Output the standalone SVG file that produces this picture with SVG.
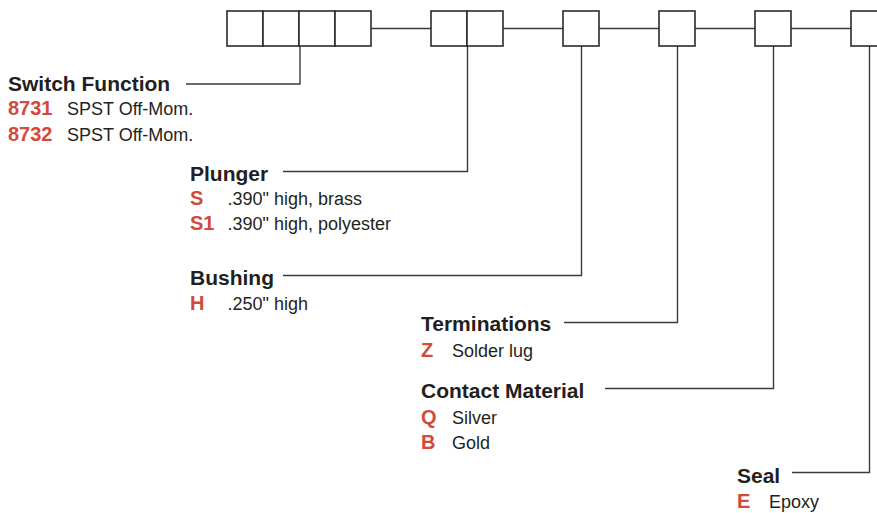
<svg xmlns="http://www.w3.org/2000/svg" width="877" height="513" viewBox="0 0 877 513">
<style>
.box{fill:#fff;stroke:#2b2b2b;stroke-width:1.6}
.ln{fill:none;stroke:#3a3a3a;stroke-width:1.4}
.t{font-family:"Liberation Sans",Arial,sans-serif;font-weight:bold;font-size:21px;fill:#231f20}
.c{font-family:"Liberation Sans",Arial,sans-serif;font-weight:bold;font-size:20px;fill:#d24a3b}
.d{font-family:"Liberation Sans",Arial,sans-serif;font-size:18px;fill:#231f20}
</style>
<rect width="877" height="513" fill="#fff"/>
<g id="connectors">
<path class="ln" d="M371 28.5H431M503 28.5H563M599 28.5H659M695 28.5H755M791 28.5H851"/>
<path class="ln" d="M186 84H300V46"/>
<path class="ln" d="M283 171.5H467.5V46"/>
<path class="ln" d="M283 275.5H581.5V46"/>
<path class="ln" d="M564 322.5H677.5V46"/>
<path class="ln" d="M605 388.5H773.5V46"/>
<path class="ln" d="M792 472.5H869.5V46"/>
</g>
<g id="boxes-switch">
<rect class="box" x="227" y="11" width="36" height="35"/>
<rect class="box" x="263" y="11" width="36" height="35"/>
<rect class="box" x="299" y="11" width="36" height="35"/>
<rect class="box" x="335" y="11" width="36" height="35"/>
</g>
<g id="boxes-plunger">
<rect class="box" x="431" y="11" width="36" height="35"/>
<rect class="box" x="467" y="11" width="36" height="35"/>
</g>
<g id="box-bushing"><rect class="box" x="563" y="11" width="36" height="35"/></g>
<g id="box-terminations"><rect class="box" x="659" y="11" width="36" height="35"/></g>
<g id="box-contact"><rect class="box" x="755" y="11" width="36" height="35"/></g>
<g id="box-seal"><rect class="box" x="851" y="11" width="36" height="35"/></g>
<g id="switch-function">
<text class="t" x="8" y="91">Switch Function</text>
<text class="c" x="8" y="115">8731</text><text class="d" x="67" y="115">SPST Off-Mom.</text>
<text class="c" x="8" y="141">8732</text><text class="d" x="67" y="141">SPST Off-Mom.</text>
</g>
<g id="plunger">
<text class="t" x="190" y="181">Plunger</text>
<text class="c" x="190" y="205">S</text><text class="d" x="227.5" y="205">.390" high, brass</text>
<text class="c" x="190" y="230">S1</text><text class="d" x="227.5" y="230">.390" high, polyester</text>
</g>
<g id="bushing">
<text class="t" x="190" y="285">Bushing</text>
<text class="c" x="190" y="310">H</text><text class="d" x="227.5" y="310">.250" high</text>
</g>
<g id="terminations">
<text class="t" x="421" y="331">Terminations</text>
<text class="c" x="421" y="357">Z</text><text class="d" x="452" y="357">Solder lug</text>
</g>
<g id="contact-material">
<text class="t" x="421" y="398">Contact Material</text>
<text class="c" x="421" y="424">Q</text><text class="d" x="452" y="424">Silver</text>
<text class="c" x="421" y="449">B</text><text class="d" x="452" y="449">Gold</text>
</g>
<g id="seal">
<text class="t" x="737" y="483">Seal</text>
<text class="c" x="737" y="508">E</text><text class="d" x="769" y="508">Epoxy</text>
</g>
</svg>
